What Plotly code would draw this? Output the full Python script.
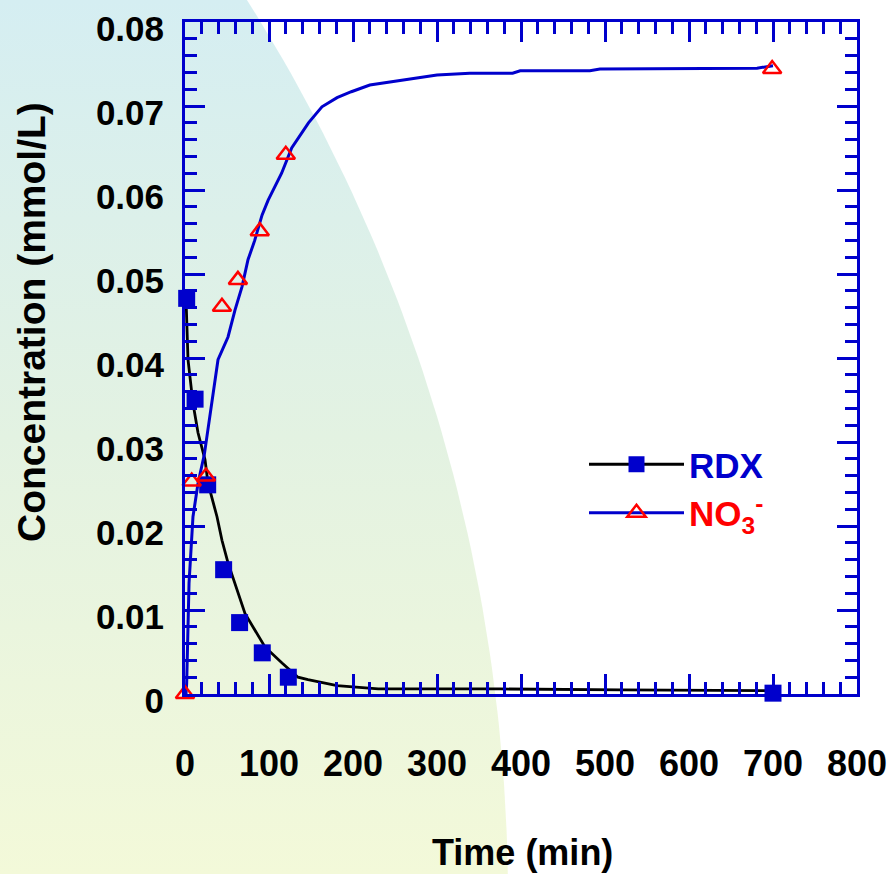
import numpy as np
import plotly.graph_objects as go

# ---------------- data ----------------
rdx_t = [2, 12, 27, 46, 65, 92, 123, 700]
rdx_c = [0.0471, 0.0351, 0.0249, 0.0148, 0.0085, 0.0049, 0.0020, 0.0001]

no3_t = [0, 8, 25, 44, 63, 89, 120, 699]
no3_c = [0.0, 0.0253, 0.0259, 0.0461, 0.0493, 0.0551, 0.0642, 0.0744]

rdx_fit_t = [1.2, 3.6, 9.5, 15.5, 23.8, 27.4, 38.1, 44.0, 51.2, 59.5, 71.4, 83.3,
             95.2, 115.5, 134.5, 146.4, 166.7, 181, 230, 375, 520, 700]
rdx_fit_c = [0.0471, 0.0398, 0.0346, 0.0311, 0.0279, 0.0251, 0.0211, 0.0183, 0.0156,
             0.0132, 0.0096, 0.0076, 0.0056, 0.0037, 0.0020, 0.0017, 0.0013, 0.0010,
             0.0006, 0.0006, 0.0005, 0.0004]

no3_fit_t = [1.2, 2.0, 4.8, 9.5, 15.5, 23.0, 39.3, 51.2, 59.5, 67.9, 75.0, 83, 91.7,
             99, 115, 127, 147, 163, 181, 198, 220, 260, 300, 339, 390, 399, 482, 494,
             681, 700]
no3_fit_c = [0.0, 0.0013, 0.0132, 0.0211, 0.0251, 0.0285, 0.0398, 0.0425, 0.0457,
             0.0485, 0.0517, 0.0540, 0.0570, 0.0588, 0.0620, 0.0650, 0.0680, 0.0699,
             0.0710, 0.0717, 0.0725, 0.0731, 0.0737, 0.0739, 0.0739, 0.0742, 0.0742,
             0.0744, 0.0745, 0.0748]

x_tickvals = [0, 100, 200, 300, 400, 500, 600, 700, 800]
x_ticktext = ['0', '100', '200', '300', '400', '500', '600', '700', '800']
y_tickvals = [0, 0.01, 0.02, 0.03, 0.04, 0.05, 0.06, 0.07, 0.08]
y_ticktext = ['0', '0.01', '0.02', '0.03', '0.04', '0.05', '0.06', '0.07', '0.08']

# ---------------- styles ----------------
W, H = 888, 874
BLUE = '#0000cc'
RED = '#ff0000'
FONT = 'Liberation Sans, Arial, sans-serif'

fig = go.Figure()

# decorative background (pixel coordinate system on axis pair x/y)
cx, cy, R = -1174.0, 900.0, 1682.0
ys = np.linspace(0, H, 60)
xs = cx + np.sqrt(R ** 2 - (ys - cy) ** 2)
bx = [0] + list(xs) + [0, 0]
by = [H] + list(H - ys) + [0, H]
fig.add_trace(go.Scatter(
    x=bx, y=by, mode='lines', fill='toself', line=dict(width=0),
    fillgradient=dict(type='vertical',
                      colorscale=[[0, '#f3f9d9'], [0.5, '#e3f2e2'], [1, '#d5eef2']]),
    hoverinfo='skip', showlegend=False, xaxis='x', yaxis='y'))

# fit lines
fig.add_trace(go.Scatter(x=rdx_fit_t, y=rdx_fit_c, mode='lines',
                         line=dict(color='black', width=2.8), showlegend=False,
                         xaxis='x2', yaxis='y2'))
fig.add_trace(go.Scatter(x=no3_fit_t, y=no3_fit_c, mode='lines',
                         line=dict(color=BLUE, width=3), showlegend=False,
                         xaxis='x2', yaxis='y2'))
# measured points
fig.add_trace(go.Scatter(x=rdx_t, y=rdx_c, mode='markers',
                         marker=dict(symbol='square', size=17, color=BLUE),
                         cliponaxis=False, showlegend=False, xaxis='x2', yaxis='y2'))
fig.add_trace(go.Scatter(x=no3_t, y=no3_c, mode='markers',
                         marker=dict(symbol='triangle-up-open', size=16, color=RED,
                                     line=dict(width=2.5, color=RED)),
                         cliponaxis=False, showlegend=False, xaxis='x2', yaxis='y2'))
# legend entries
fig.add_trace(go.Scatter(x=[None], y=[None], mode='lines+markers',
                         name='<span style="color:#0000cc">RDX</span>',
                         line=dict(color='black', width=2.8),
                         marker=dict(symbol='square', size=16, color=BLUE),
                         xaxis='x2', yaxis='y2'))
fig.add_trace(go.Scatter(x=[None], y=[None], mode='lines+markers',
                         name='<span style="color:#ff0000">NO<sub>3</sub><sup>-</sup></span>',
                         line=dict(color=BLUE, width=3),
                         marker=dict(symbol='triangle-up-open', size=16, color=RED,
                                     line=dict(width=2.5, color=RED)),
                         xaxis='x2', yaxis='y2'))

axis_common = dict(
    showline=True, linecolor=BLUE, linewidth=3, mirror='allticks',
    ticks='inside', ticklen=20, tickwidth=2.5, tickcolor=BLUE,
    showgrid=False, zeroline=False, tickmode='array', automargin=False,
    ticklabeloverflow='allow',
)

fig.update_layout(
    width=W, height=H, margin=dict(l=0, r=0, t=0, b=0, pad=0, autoexpand=False),
    paper_bgcolor='white', plot_bgcolor='rgba(0,0,0,0)',
    showlegend=True,
    xaxis=dict(domain=[0, 1], range=[0, W], visible=False, fixedrange=True,
               automargin=False),
    yaxis=dict(domain=[0, 1], range=[0, H], visible=False, fixedrange=True,
               automargin=False),
    xaxis2=dict(domain=[185 / W, 857 / W], anchor='y2', range=[0, 800],
                tickvals=x_tickvals, ticktext=x_ticktext,
                minor=dict(ticks='inside', ticklen=12, tickwidth=2.5, tickcolor=BLUE,
                           dtick=20, tick0=0, showgrid=False),
                tickfont=dict(family=FONT, size=36, color='black', weight='bold'),
                ticklabelstandoff=36, **axis_common),
    yaxis2=dict(domain=[180 / H, 852 / H], anchor='x2', range=[0, 0.08],
                tickvals=y_tickvals, ticktext=y_ticktext,
                minor=dict(ticks='inside', ticklen=12, tickwidth=2.5, tickcolor=BLUE,
                           dtick=0.002, tick0=0, showgrid=False),
                tickfont=dict(family=FONT, size=35, color='black', weight='bold'),
                ticklabelstandoff=11, ticklabelshift=7, **axis_common),
    legend=dict(x=584 / W, y=(H - 435) / H, xanchor='left', yanchor='top',
                bgcolor='rgba(0,0,0,0)', borderwidth=0, itemwidth=95,
                font=dict(family=FONT, size=35, weight='bold'), tracegroupgap=0),
    annotations=[
        dict(text='Concentration (mmol/L)', textangle=-90, xref='paper', yref='paper',
             x=31 / W, y=(H - 322) / H, xanchor='center', yanchor='middle',
             showarrow=False, font=dict(family=FONT, size=39, color='black', weight='bold')),
        dict(text='Time (min)', xref='paper', yref='paper',
             x=522 / W, y=(H - 852) / H, xanchor='center', yanchor='middle',
             showarrow=False, font=dict(family=FONT, size=36, color='black', weight='bold')),
    ],
)

fig.write_html('out.html')
